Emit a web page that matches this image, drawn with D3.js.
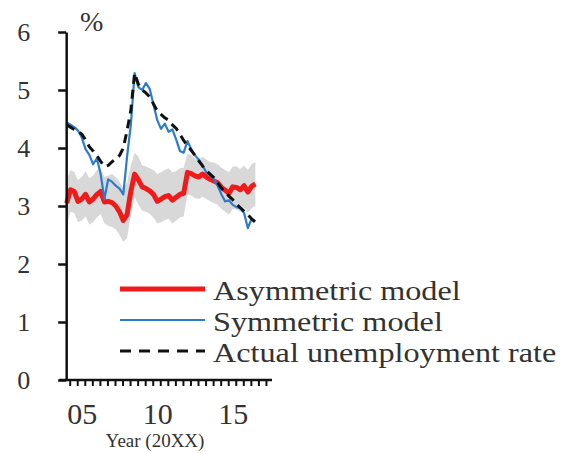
<!DOCTYPE html>
<html>
<head>
<meta charset="utf-8">
<script src="https://cdn.jsdelivr.net/npm/d3@7"></script>
<style>
  html, body { margin: 0; padding: 0; background: #fff; }
  svg { display: block; }
  text { font-family: "Liberation Serif", "Times New Roman", serif; fill: #333; }
</style>
</head>
<body>
<svg id="chart" width="561" height="454"></svg>
<script>
// Quarterly observations starting 2003.8 (step 0.25 year)
const startYear = 2003.8;
const step = 0.25;

// Actual unemployment rate (%)
const actual = [4.40, 4.36, 4.32, 4.29, 4.24, 4.14, 4.02, 3.95, 3.87, 3.77,
  3.68, 3.70, 3.76, 3.82, 3.87, 4.00, 4.30, 4.65, 5.29, 5.10,
  5.00, 4.95, 4.88, 4.76, 4.64, 4.58, 4.52, 4.48, 4.40, 4.34,
  4.24, 4.13, 4.04, 3.96, 3.87, 3.78, 3.69, 3.61, 3.55, 3.49,
  3.40, 3.31, 3.24, 3.17, 3.11, 3.03, 2.97, 2.91, 2.85, 2.78, 2.72];

// Symmetric model estimate (%)
const symmetric = [4.44, 4.40, 4.36, 4.30, 4.18, 3.98, 3.88, 3.72, 3.82, 3.55,
  3.12, 3.46, 3.42, 3.35, 3.30, 3.20, 3.85, 4.40, 5.29, 5.05,
  5.00, 5.12, 5.02, 4.75, 4.48, 4.33, 4.42, 4.28, 4.32, 4.15,
  3.95, 3.92, 4.12, 3.98, 3.87, 3.80, 3.70, 3.58, 3.53, 3.46,
  3.35, 3.20, 3.08, 3.10, 3.02, 2.98, 2.96, 2.88, 2.62, 2.78, 2.74];

// Asymmetric model estimate (%)
const asymmetric = [3.05, 3.28, 3.25, 3.08, 3.12, 3.20, 3.07, 3.12, 3.20, 3.25,
  3.07, 3.08, 3.06, 3.00, 2.90, 2.75, 2.85, 3.25, 3.55, 3.45,
  3.33, 3.30, 3.26, 3.20, 3.08, 3.12, 3.16, 3.18, 3.10, 3.15,
  3.20, 3.22, 3.58, 3.56, 3.52, 3.50, 3.55, 3.50, 3.46, 3.43,
  3.40, 3.32, 3.27, 3.22, 3.33, 3.32, 3.28, 3.35, 3.24, 3.34, 3.38];

// Confidence band around the asymmetric model (%)
const bandUpper = [3.45, 3.62, 3.58, 3.45, 3.50, 3.60, 3.48, 3.52, 3.62, 3.65,
  3.50, 3.52, 3.55, 3.50, 3.42, 3.30, 3.40, 3.70, 3.92, 3.85,
  3.70, 3.68, 3.65, 3.62, 3.55, 3.58, 3.62, 3.65, 3.58, 3.60,
  3.65, 3.66, 3.90, 3.88, 3.82, 3.80, 3.85, 3.80, 3.76, 3.75,
  3.72, 3.66, 3.62, 3.58, 3.68, 3.68, 3.64, 3.70, 3.62, 3.72, 3.76];
const bandLower = [2.68, 2.90, 2.88, 2.72, 2.75, 2.82, 2.68, 2.72, 2.80, 2.86,
  2.70, 2.66, 2.64, 2.60, 2.50, 2.38, 2.45, 2.85, 3.15, 3.02,
  2.92, 2.90, 2.86, 2.80, 2.70, 2.72, 2.76, 2.78, 2.70, 2.75,
  2.80, 2.82, 3.20, 3.18, 3.14, 3.12, 3.16, 3.12, 3.08, 3.05,
  3.02, 2.95, 2.90, 2.85, 2.95, 2.94, 2.90, 2.97, 2.88, 2.96, 3.00];

// Axis ticks and labels
const yTicks = [0, 1, 2, 3, 4, 5, 6];
const xTicks = d3.range(2004, 2017.01, 0.5);
const xLabelled = [2005, 2010, 2015];
const xTitle = "Year (20XX)";
const yUnit = "%";

// Legend entries
const legendLabels = ["Asymmetric model", "Symmetric model", "Actual unemployment rate"];

const svg = d3.select("#chart");

const x = d3.scaleLinear().domain([2004, 2016.5]).range([69.7, 258.4]);
const y = d3.scaleLinear().domain([0, 6]).range([380, 32]);

const rows = asymmetric.map((v, i) => ({
  t: startYear + i * step,
  asym: v,
  sym: symmetric[i],
  act: actual[i],
  lo: bandLower[i],
  hi: bandUpper[i]
}));

// Confidence band
svg.append("path")
  .datum(rows)
  .attr("fill", "#d8d8d8")
  .attr("d", d3.area()
    .x(d => x(d.t))
    .y0(d => y(d.lo))
    .y1(d => y(d.hi)));

const lineOf = key => d3.line().x(d => x(d.t)).y(d => y(d[key]));

const styles = [
  { key: "asym", color: "#ee1b1b", width: 5, dash: null },
  { key: "sym", color: "#2d7cc9", width: 2.2, dash: null },
  { key: "act", color: "#111", width: 3, dash: "9,6" }
];

styles.forEach(s => {
  svg.append("path")
    .datum(rows)
    .attr("fill", "none")
    .attr("stroke", s.color)
    .attr("stroke-width", s.width)
    .attr("stroke-linejoin", "round")
    .attr("stroke-dasharray", s.dash)
    .attr("d", lineOf(s.key));
});

// Y axis
const yAxis = svg.append("g")
  .attr("transform", `translate(${x(startYear) - 0.5},0)`)
  .call(d3.axisLeft(y).tickValues(yTicks).tickFormat(d3.format("d"))
    .tickSize(8).tickSizeOuter(0).tickPadding(28));
yAxis.select(".domain").attr("stroke", "#111").attr("stroke-width", 2.5);
yAxis.selectAll(".tick line").attr("stroke", "#111").attr("stroke-width", 2.5);
yAxis.selectAll(".tick text")
  .attr("font-size", 26)
  .attr("fill", "#333")
  .style("font-family", "'Liberation Serif', serif");

// X axis
const xAxis = svg.append("g")
  .attr("transform", `translate(0,${y(0)})`)
  .call(d3.axisBottom(x)
    .tickValues(xTicks)
    .tickSize(6)
    .tickSizeOuter(0)
    .tickFormat(d => xLabelled.includes(d) ? String(d % 100).padStart(2, "0") : ""));
xAxis.select(".domain").remove();
xAxis.append("line")
  .attr("x1", x(2003.3)).attr("x2", x(2017.4))
  .attr("y1", 0).attr("y2", 0)
  .attr("stroke", "#111").attr("stroke-width", 2.5);
xAxis.selectAll(".tick line").attr("stroke", "#111").attr("stroke-width", 2);
xAxis.selectAll(".tick text")
  .attr("font-size", 30)
  .attr("fill", "#333")
  .attr("dx", -3)
  .attr("y", 44)
  .attr("dy", 0)
  .style("font-family", "'Liberation Serif', serif");

svg.append("text")
  .attr("x", 155).attr("y", 447)
  .attr("text-anchor", "middle")
  .attr("font-size", 19)
  .text(xTitle);

svg.append("text")
  .attr("x", 80).attr("y", 31)
  .attr("font-size", 28)
  .text(yUnit);

// Legend: glyphs are set slightly wide, as in the printed figure
const legendY = [289, 320, 351];
const legendStretch = 1.15;
const legend = svg.append("g");
styles.forEach((s, i) => {
  legend.append("line")
    .attr("x1", 120).attr("x2", 205)
    .attr("y1", legendY[i]).attr("y2", legendY[i])
    .attr("stroke", s.color)
    .attr("stroke-width", s.width)
    .attr("stroke-dasharray", s.dash ? "11,8" : null);
  const t = legend.append("text")
    .attr("x", 213).attr("y", legendY[i] + 11)
    .attr("font-size", 28)
    .text(legendLabels[i]);
  const w = t.node().getComputedTextLength();
  t.attr("textLength", w * legendStretch).attr("lengthAdjust", "spacingAndGlyphs");
});
</script>
</body>
</html>
